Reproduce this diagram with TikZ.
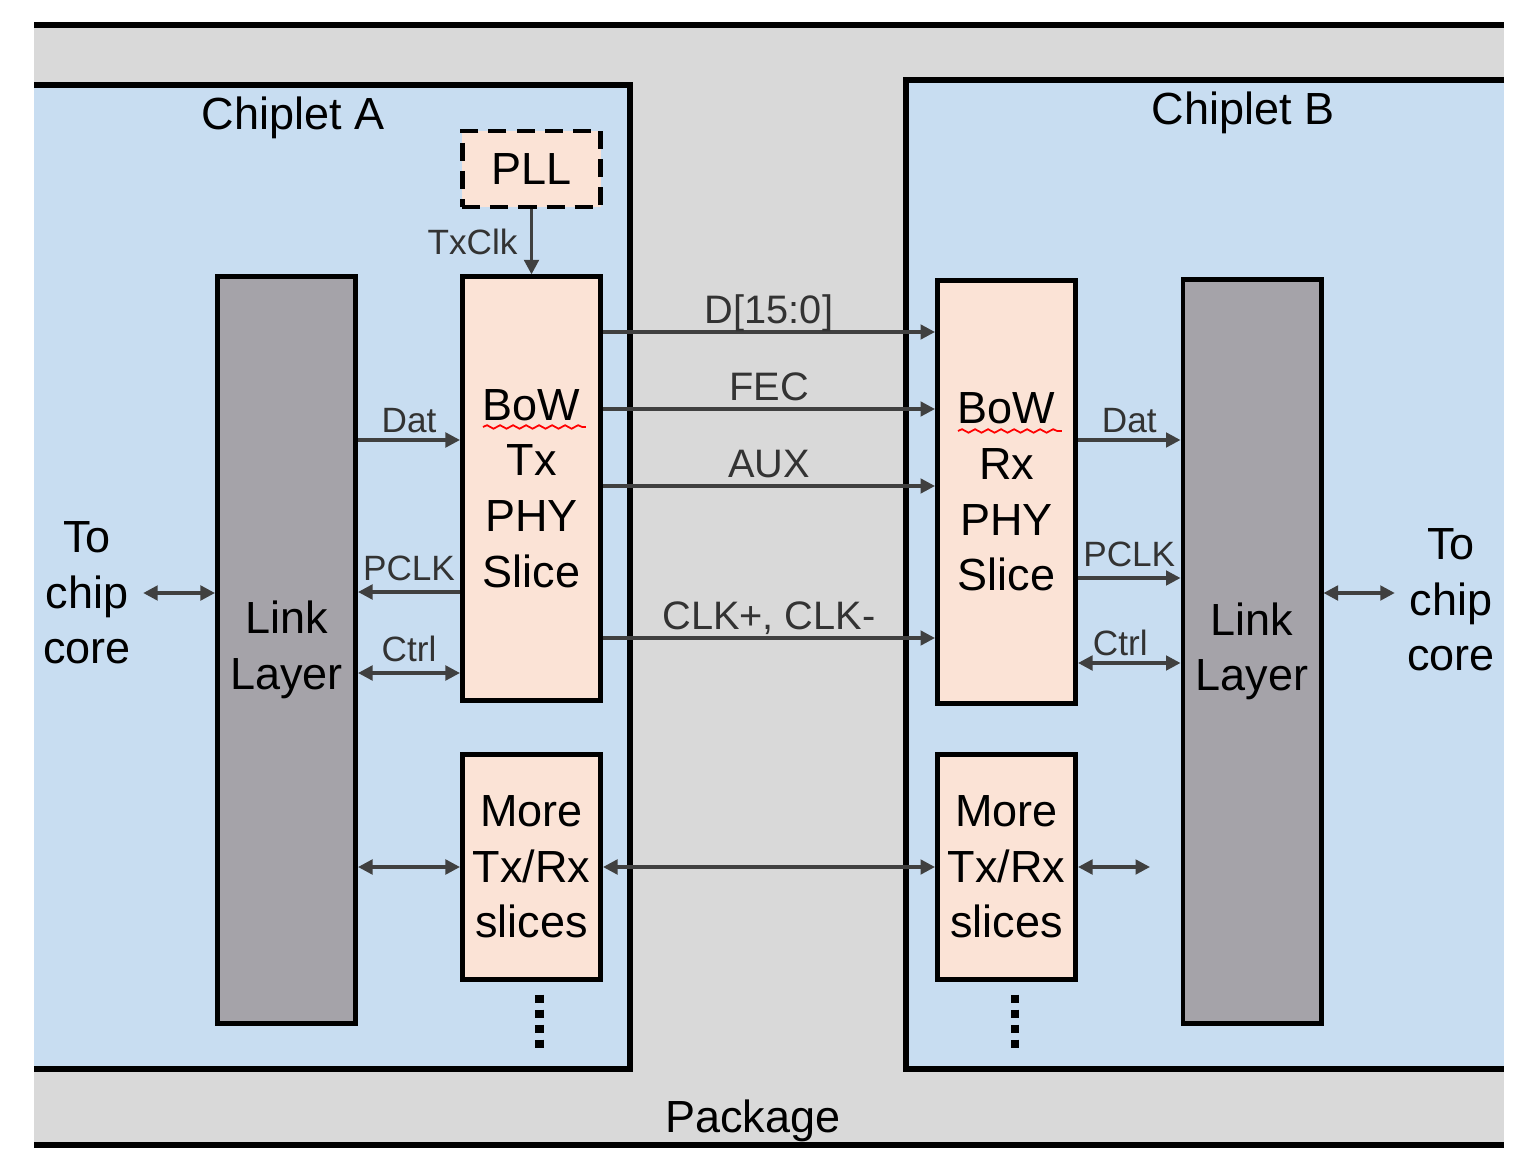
\documentclass[tikz,border=0pt]{standalone}
\usepackage{fontspec}
\setmainfont{Liberation Sans}
\usepackage{tikz}
\usepackage{xcolor}
\usetikzlibrary{arrows.meta,positioning,calc,decorations.pathmorphing}
\definecolor{PkgGray}{RGB}{217,217,217}
\definecolor{ChipBlue}{RGB}{200,221,241}
\definecolor{SlicePeach}{RGB}{251,227,214}
\definecolor{LinkGray}{RGB}{165,163,169}
\definecolor{WireGray}{RGB}{64,64,64}

\begin{document}
\begin{tikzpicture}[x=0.01cm, y=-0.01cm,
  every node/.style={font=\fontsize{12.8}{15.8}\selectfont, align=center},
  box/.style={draw, line width=1.4pt, minimum width=1.38cm, inner sep=0pt},
  slice/.style={box, fill=SlicePeach},
  link/.style={box, fill=LinkGray},
  sig/.style={draw=WireGray, line width=0.95pt, -{Triangle[length=1.45mm, width=1.45mm]}},
  bisig/.style={sig, {Triangle[length=1.45mm, width=1.45mm]}-{Triangle[length=1.45mm, width=1.45mm]}},
  lbl/.style={font=\fontsize{10}{12}\selectfont, text=black!80, inner sep=1.5pt},
  bus/.style={font=\fontsize{11.3}{13}\selectfont, text=black!80, inner sep=2pt, text depth=0pt},
  dots/.style={line width=2.3pt, dash pattern=on 0.08cm off 0.07cm},
  squiggle/.style={red, line width=0.5pt, decorate, decoration={snake, amplitude=0.5pt, segment length=1.3mm}}
]
\useasboundingbox (0,0) rectangle (1536,1170);

% package and chiplets
\fill[PkgGray] (34,25) rectangle (1504,1145);
\draw[line width=1.6pt] (34,25) -- (1504,25) (34,1145) -- (1504,1145);
\fill[ChipBlue] (34,85) rectangle (630,1069);
\draw[line width=1.5pt] (34,85) -- (630,85) -- (630,1069) -- (34,1069);
\fill[ChipBlue] (906,80) rectangle (1504,1069);
\draw[line width=1.5pt] (1504,80) -- (906,80) -- (906,1069) -- (1504,1069);

\node (chipA) at (293,118) {Chiplet A};
\node (chipB) at (1243,113) {Chiplet B};
\node (pkg) at (753,1121) {Package};

% chiplet A
\node[link, minimum height=7.46cm] (linkA) at (286.5,650) {Link\\Layer};
\node[slice, minimum height=4.23cm] (txA) at (531.5,488.5) {BoW\\Tx\\PHY\\Slice};
\node[slice, minimum height=0.76cm, dash pattern=on 0.18cm off 0.1cm] (pll) at (531.5,169) {PLL};
\node[slice, minimum height=2.25cm] (moreA) at (531.5,867) {More\\Tx/Rx\\slices};
\node (coreA) at (87,593) {To\\chip\\core};

% chiplet B
\node[slice, minimum height=4.22cm] (rxB) at (1006.5,492) {BoW\\Rx\\PHY\\Slice};
\node[link, minimum height=7.43cm] (linkB) at (1252,651.5) {Link\\Layer};
\node[slice, minimum height=2.25cm] (moreB) at (1006.5,867) {More\\Tx/Rx\\slices};
\node (coreB) at (1451,600) {To\\chip\\core};
\coordinate (moreOut) at (1150,867);

\draw[squiggle] ([xshift=-0.485cm, yshift=0.615cm]txA.center) -- ++(103,0);
\draw[squiggle] ([xshift=-0.485cm, yshift=0.61cm]rxB.center) -- ++(104,0);

\draw[sig] (pll.south) -- (txA.north) node[midway, left=2pt, lbl] {TxClk};
\draw[bisig] (coreA.east) -- (coreA.east -| linkA.west);
\draw[sig] (linkA.east |- 0,440) -- (txA.west |- 0,440) node[midway, above, lbl] {Dat};
\draw[sig] (txA.west |- 0,592) -- (linkA.east |- 0,592) node[midway, above=1.3pt, lbl] {PCLK};
\draw[bisig] (linkA.east |- 0,673) -- (txA.west |- 0,673) node[midway, above=1.3pt, lbl] {Ctrl};
\draw[bisig] (linkA.east |- moreA.west) -- (moreA.west);

\draw[sig] (txA.east |- 0,332) -- (rxB.west |- 0,332) node[midway, above, bus] {D[15:0]};
\draw[sig] (txA.east |- 0,409) -- (rxB.west |- 0,409) node[midway, above, bus] {FEC};
\draw[sig] (txA.east |- 0,486) -- (rxB.west |- 0,486) node[midway, above, bus] {AUX};
\draw[sig] (txA.east |- 0,638) -- (rxB.west |- 0,638) node[midway, above, bus] {CLK+, CLK-};
\draw[bisig] (moreA.east) -- (moreB.west);

\draw[sig] (rxB.east |- 0,440) -- (linkB.west |- 0,440) node[midway, above, lbl] {Dat};
\draw[sig] (rxB.east |- 0,578) -- (linkB.west |- 0,578) node[midway, above=1.3pt, lbl] {PCLK};
\draw[bisig] (rxB.east |- 0,663) -- (linkB.west |- 0,663) node[midway, above, xshift=-0.09cm, lbl] {Ctrl};
\draw[bisig] (moreB.east) -- (moreOut);
\draw[bisig] (linkB.east |- 0,593) -- (coreB.west |- 0,593);

\draw[dots] ([xshift=0.08cm, yshift=-0.125cm]moreA.south) -- ++(0,54);
\draw[dots] ([xshift=0.085cm, yshift=-0.125cm]moreB.south) -- ++(0,54);
\end{tikzpicture}
\end{document}
